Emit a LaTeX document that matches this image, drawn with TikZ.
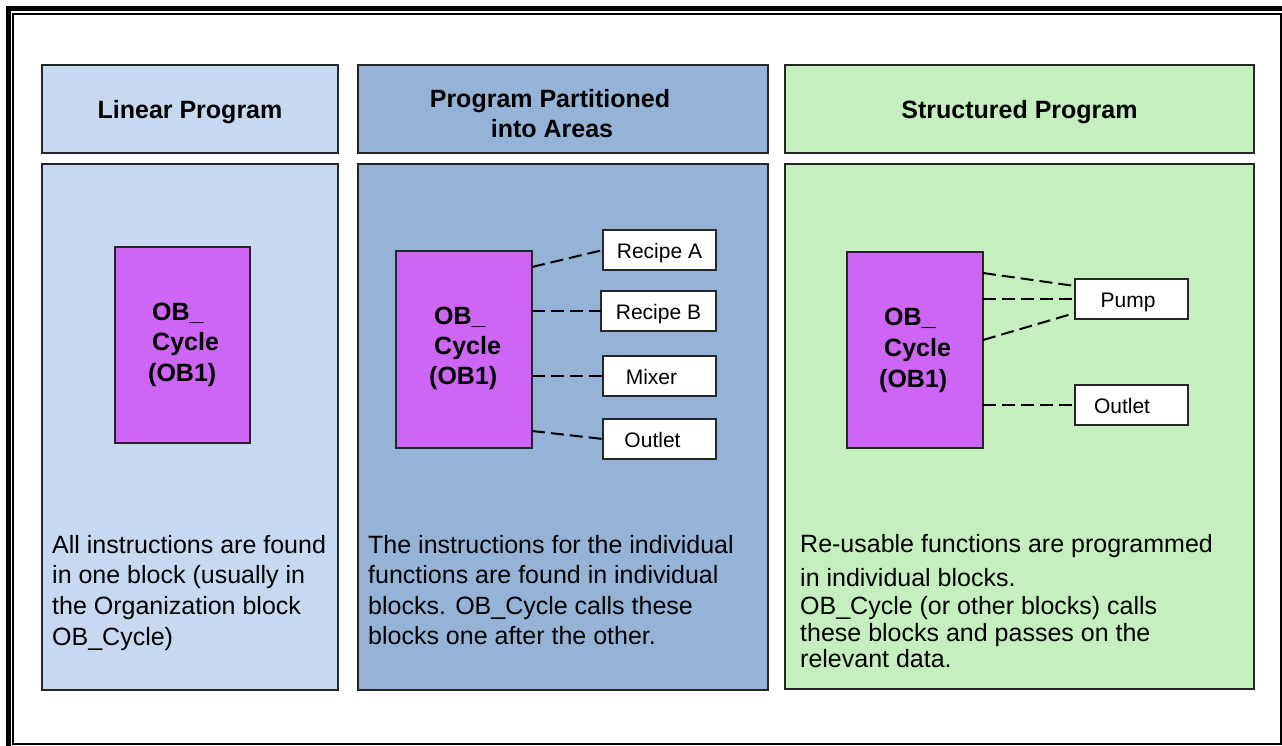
\documentclass[tikz,border=0pt]{standalone}
\usepackage{fontspec}
\setmainfont{Liberation Sans}
\usetikzlibrary{calc}
\definecolor{lblue}{HTML}{C6D9F1}
\definecolor{mblue}{HTML}{95B3D7}
\definecolor{lgreen}{HTML}{C6EFC0}
\definecolor{obcol}{HTML}{CD66F5}
\begin{document}
\begin{tikzpicture}[x=1pt,y=-1pt,
  panel/.style={draw=black!85, line width=1.6pt, inner sep=0pt, outer sep=0pt, anchor=north west},
  obbox/.style={panel, fill=obcol},
  wbox/.style={panel, fill=white, font=\fontsize{21}{25}\selectfont, text height=17pt, text depth=0pt},
  conn/.style={line width=2pt, dash pattern=on 13pt off 6pt},
  txt/.style={font=\fontsize{25}{31}\selectfont, anchor=base west, inner sep=0pt},
  ttl/.style={font=\bfseries\fontsize{25}{31}\selectfont, anchor=base, inner sep=0pt},
  obt/.style={font=\bfseries\fontsize{25}{31}\selectfont, anchor=base west, inner sep=0pt}]
\useasboundingbox (0,0) rectangle (1282,745);
\clip (0,0) rectangle (1282,745);
\fill[white] (0,0) rectangle (1282,745);
% frame
\draw[line width=5pt] (8.5,8.5) rectangle (1295,760);
\draw[line width=2pt] (13.3,14.3) rectangle (1280.5,743.5);

% headers
\node[panel, fill=lblue, minimum width=296pt, minimum height=88pt] (h1) at (42,65) {};
\node[panel, fill=mblue, minimum width=410pt, minimum height=88pt] (h2) at (358,65) {};
\node[panel, fill=lgreen, minimum width=469pt, minimum height=88pt] (h3) at (785,65) {};
\node[ttl] (h1t) at (190,118) {Linear Program};
\node[ttl] (h2t1) at (550,107) {Program Partitioned};
\node[ttl] (h2t2) at (552,137) {into Areas};
\node[ttl] (h3t) at (1019.5,118) {Structured Program};

% bodies
\node[panel, fill=lblue, minimum width=296pt, minimum height=526pt] (b1) at (42,164) {};
\node[panel, fill=mblue, minimum width=410pt, minimum height=526pt] (b2) at (358,164) {};
\node[panel, fill=lgreen, minimum width=469pt, minimum height=525pt] (b3) at (785,164) {};

% OB blocks
\node[obbox, minimum width=135pt, minimum height=196pt] (ob1) at (115,247) {};
\node[obbox, minimum width=136pt, minimum height=197pt] (ob2) at (396,251) {};
\node[obbox, minimum width=136pt, minimum height=196pt] (ob3) at (847,252) {};
\node[obt] (o1a) at (152,320) {OB\_};
\node[obt] (o1b) at (152,350.5) {Cycle};
\node[obt] (o1c) at (148,381) {(OB1)};
\node[obt] (o2a) at (434,324) {OB\_};
\node[obt] (o2b) at (434,354) {Cycle};
\node[obt] (o2c) at (429,384.5) {(OB1)};
\node[obt] (o3a) at (884,325) {OB\_};
\node[obt] (o3b) at (884,356) {Cycle};
\node[obt] (o3c) at (879,387) {(OB1)};

% white blocks
\node[wbox, minimum width=113pt, minimum height=40pt] (ra) at (603,230) {Recipe A};
\node[wbox, minimum width=115pt, minimum height=40pt] (rb) at (601,291) {Recipe B};
\node[wbox, minimum width=113pt, minimum height=40pt] (mx) at (603,356) {Mixer\hspace*{16pt}};
\node[wbox, minimum width=113pt, minimum height=40pt] (ou2) at (603,419) {Outlet\hspace*{14pt}};
\node[wbox, minimum width=113pt, minimum height=40pt] (pu) at (1075,279) {Pump\hspace*{7pt}};
\node[wbox, minimum width=113pt, minimum height=40pt] (ou3) at (1075,385) {Outlet\hspace*{19pt}};

% connectors middle
\draw[conn] ([yshift=-16pt]ob2.north east) -- (ra.west);
\draw[conn] (ob2.east |- rb.west) -- (rb.west);
\draw[conn] (ob2.east |- mx.west) -- (mx.west);
\draw[conn] ([yshift=-180pt]ob2.north east) -- (ou2.west);
% connectors right
\draw[conn] ([yshift=-21pt]ob3.north east) -- ([yshift=13pt]pu.west);
\draw[conn] (ob3.east |- pu.west) -- (pu.west);
\draw[conn] ([yshift=-88pt]ob3.north east) -- ([yshift=-14pt]pu.west);
\draw[conn] (ob3.east |- ou3.west) -- (ou3.west);

% body texts
\node[txt] (l1) at (52,553) {All instructions are found};
\node[txt] (l2) at (52,583.5) {in one block (usually in};
\node[txt] (l3) at (52,614) {the Organization block};
\node[txt] (l4) at (52,645) {OB\_Cycle)};
\node[txt] (m1) at (368,553) {The instructions for the individual};
\node[txt] (m2) at (368,583.5) {functions are found in individual};
\node[txt] (m3) at (368,614) {blocks. OB\_Cycle calls these};
\node[txt] (m4) at (368,644.5) {blocks one after the other.};
\node[txt] (r1) at (800,552.5) {Re-usable functions are programmed};
\node[txt] (r2) at (800,586) {in individual blocks.};
\node[txt] (r3) at (800,614) {OB\_Cycle (or other blocks) calls};
\node[txt] (r4) at (800,641) {these blocks and passes on the};
\node[txt] (r5) at (800,667.5) {relevant data.};
\end{tikzpicture}
\end{document}
